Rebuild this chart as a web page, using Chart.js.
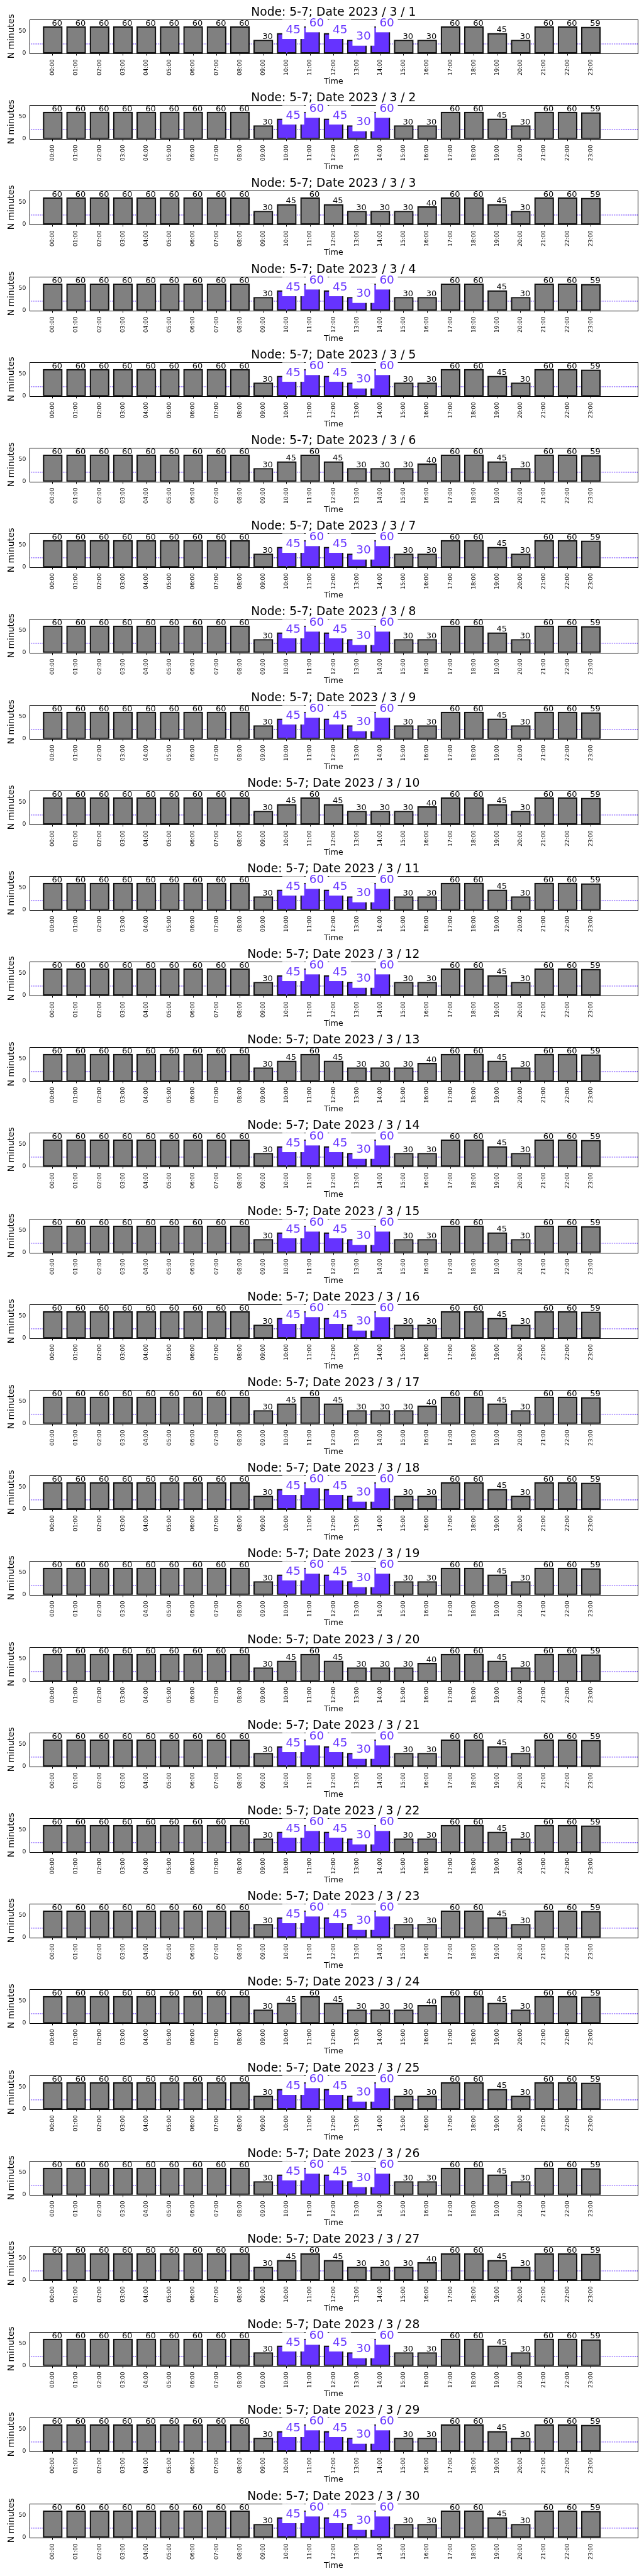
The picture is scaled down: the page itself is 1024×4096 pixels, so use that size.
<!DOCTYPE html>
<html>
<head>
<meta charset="utf-8">
<script src="https://cdn.jsdelivr.net/npm/chart.js@4.4.0/dist/chart.umd.min.js"></script>
<style>
  html, body { margin: 0; padding: 0; background: #fff; }
  #wrap { position: relative; width: 1024px; height: 4096px; overflow: hidden; }
  #wrap canvas { position: absolute; left: 0; }
</style>
</head>
<body>
<div id="wrap"></div>
<script>
// Minutes per hour for node 5-7, one panel per day of March 2023
const hourLabels = ['00:00', '01:00', '02:00', '03:00', '04:00', '05:00', '06:00', '07:00',
  '08:00', '09:00', '10:00', '11:00', '12:00', '13:00', '14:00', '15:00',
  '16:00', '17:00', '18:00', '19:00', '20:00', '21:00', '22:00', '23:00'];

// days with the highlighted 10:00-14:00 window
const minutesHighlightDay = [60, 60, 60, 60, 60, 60, 60, 60, 60, 30, 45, 60,
  45, 30, 60, 30, 30, 60, 60, 45, 30, 60, 60, 59];
// days without it
const minutesPlainDay = [60, 60, 60, 60, 60, 60, 60, 60, 60, 30, 45, 60,
  45, 30, 30, 30, 40, 60, 60, 45, 30, 60, 60, 59];

const dayNumbers = [1, 2, 3, 4, 5, 6, 7, 8, 9, 10, 11, 12, 13, 14, 15,
  16, 17, 18, 19, 20, 21, 22, 23, 24, 25, 26, 27, 28, 29, 30];
const highlightDays = [1, 2, 4, 5, 7, 8, 9, 11, 12, 14, 15, 16, 18, 19, 21,
  22, 23, 25, 26, 28, 29, 30];
const highlightHours = [10, 11, 12, 13, 14];
const yTickValues = [0, 50];
const thresholdMinutes = [21];
const markerHour = [10];

const S = 1024 / 1500;          // reference -> window scale
const PURPLE = '#6633ff';
const FAMILY = "'DejaVu Sans', 'Liberation Sans', sans-serif";
const CANVAS_H = 137;
const AXES = { left: 68.3 * S, right: 1485.4 * S, top: 45 * S, bottom: 124.3 * S };

// Draws the box, bar value labels and the panel texts
const panelDecor = {
  id: 'panelDecor',
  afterDatasetsDraw(chart, args, opts) {
    const ctx = chart.ctx;
    const area = chart.chartArea;

    // axes frame
    ctx.save();
    ctx.strokeStyle = '#000';
    ctx.lineWidth = 1;
    ctx.strokeRect(Math.round(area.left) + 0.5, Math.round(area.top) + 0.5,
      Math.round(area.right - area.left), Math.round(area.bottom - area.top));
    ctx.restore();

    // value labels
    const meta = chart.getDatasetMeta(0);
    const values = opts.values;
    ctx.save();
    ctx.textAlign = 'left';
    ctx.textBaseline = 'alphabetic';
    meta.data.forEach((bar, i) => {
      const text = String(values[i]);
      const hot = opts.highlighted && highlightHours.includes(i);
      const x = bar.x - 2 * S;
      if (hot) {
        ctx.font = (27 * S) + 'px ' + FAMILY;
        const w = ctx.measureText(text).width;
        const base = bar.y;
        ctx.fillStyle = '#fff';
        ctx.fillRect(x - 8.4 * S, base - 31.5 * S, w + 16.8 * S, 45 * S);
        ctx.fillStyle = PURPLE;
        ctx.fillText(text, x, base);
      } else {
        ctx.font = (19 * S) + 'px ' + FAMILY;
        ctx.fillStyle = '#000';
        ctx.fillText(text, x, bar.y - 2 * S);
      }
    });
    ctx.restore();
  },
  afterDraw(chart, args, opts) {
    const ctx = chart.ctx;
    const area = chart.chartArea;
    const cx = (area.left + area.right) / 2;
    ctx.save();
    ctx.fillStyle = '#000';
    ctx.textAlign = 'center';
    ctx.textBaseline = 'alphabetic';

    // title
    ctx.font = (27.4 * S) + 'px ' + FAMILY;
    ctx.fillText('Node: 5-7; Date 2023 / 3 / ' + opts.day, cx, 36.7 * S);

    // x label
    ctx.font = (18.3 * S) + 'px ' + FAMILY;
    ctx.fillText('Time', cx, 195 * S);

    // y label
    ctx.font = (20.3 * S) + 'px ' + FAMILY;
    ctx.translate(31.7 * S, (area.top + area.bottom) / 2);
    ctx.rotate(-Math.PI / 2);
    ctx.fillText('N minutes', 0, 0);
    ctx.restore();
  }
};

const wrap = document.getElementById('wrap');

dayNumbers.forEach((day, k) => {
  const highlighted = highlightDays.includes(day);
  const values = highlighted ? minutesHighlightDay : minutesPlainDay;

  const canvas = document.createElement('canvas');
  canvas.width = 1024;
  canvas.height = CANVAS_H;
  canvas.style.top = Math.round(199.5 * S * k) + 'px';
  wrap.appendChild(canvas);

  const barColors = values.map((v, i) =>
    highlighted && highlightHours.includes(i) ? PURPLE : '#808080');

  const datasets = [
    {
      type: 'bar',
      data: values.map((v, i) => ({ x: i, y: v })),
      backgroundColor: barColors,
      borderColor: '#111111',
      borderWidth: 3.2 * S,
      borderSkipped: false,
      barThickness: 45 * S,
      order: 1
    },
    {
      type: 'line',
      data: [{ x: -1, y: thresholdMinutes[0] }, { x: 25, y: thresholdMinutes[0] }],
      borderColor: PURPLE,
      borderWidth: 2 * S,
      borderDash: [1.4, 1.4],
      pointRadius: 0,
      order: 2
    }
  ];
  if (highlighted) {
    datasets.push({
      type: 'line',
      data: [{ x: markerHour[0], y: 0 }, { x: markerHour[0], y: 76 }],
      borderColor: PURPLE,
      borderWidth: 3 * S,
      pointRadius: 0,
      order: 0
    });
  }

  new Chart(canvas, {
    type: 'bar',
    data: { datasets },
    plugins: [panelDecor],
    options: {
      responsive: false,
      animation: false,
      devicePixelRatio: 1,
      events: [],
      layout: {
        padding: { top: AXES.top, right: 1024 - AXES.right, bottom: 0, left: 0 }
      },
      plugins: {
        legend: { display: false },
        tooltip: { enabled: false },
        title: { display: false },
        panelDecor: { day, highlighted, values }
      },
      scales: {
        x: {
          type: 'linear',
          min: -1,
          max: 25,
          offset: false,
          afterBuildTicks: sc => { sc.ticks = hourLabels.map((_, i) => ({ value: i })); },
          afterFit: sc => { sc.height = CANVAS_H - AXES.bottom; },
          ticks: {
            autoSkip: false,
            minRotation: 90,
            maxRotation: 90,
            padding: 6,
            color: '#000',
            font: { family: FAMILY, size: 13 * S },
            callback: v => hourLabels[v]
          },
          grid: {
            offset: false,
            drawOnChartArea: false,
            drawTicks: true,
            tickLength: 5.2 * S,
            tickWidth: 1,
            tickColor: '#000'
          },
          border: { display: false }
        },
        y: {
          min: 0,
          max: 76,
          afterBuildTicks: sc => { sc.ticks = yTickValues.map(v => ({ value: v })); },
          afterFit: sc => { sc.width = AXES.left; },
          ticks: {
            padding: 5.3,
            color: '#000',
            font: { family: FAMILY, size: 13.5 * S }
          },
          grid: { display: false, drawTicks: false },
          border: { display: false }
        }
      }
    }
  });
});
</script>
</body>
</html>
